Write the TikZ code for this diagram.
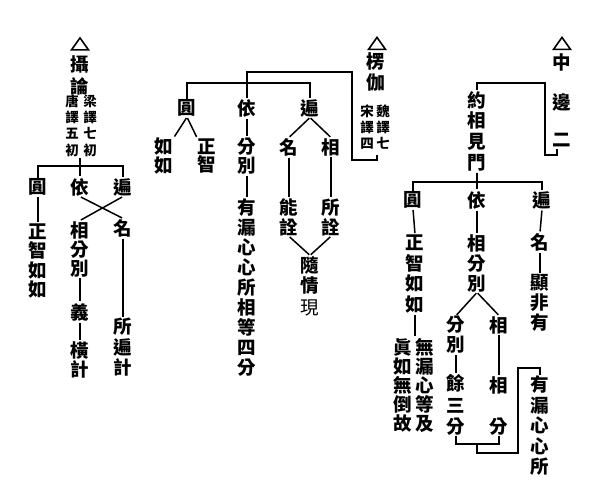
\documentclass[tikz,border=0pt]{standalone}
\usepackage{fontspec}
\usetikzlibrary{shapes.geometric}
\newfontfamily\cjk{Noto Sans CJK TC}
\tikzset{
  ch/.style={font=\cjk\bfseries\fontsize{18.5}{#1}\selectfont, inner sep=0.5pt, align=center},
  ch/.default=20,
  sm/.style={font=\cjk\bfseries\fontsize{13.5}{16.3}\selectfont, inner sep=0.5pt, align=center},
  tri/.style={draw, line width=1.6pt, isosceles triangle, shape border rotate=90,
    isosceles triangle stretches, minimum width=17pt, minimum height=12pt, inner sep=0pt},
  ln/.style={line width=1.5pt, shorten >=1pt, shorten <=1pt},
  br/.style={line width=1.5pt},
}
\begin{document}
\begin{tikzpicture}[x=1pt,y=-1pt]
\useasboundingbox (0,0) rectangle (614,490);
% ---------- panel 1 ----------
\node[tri] (tri1) at (80,45.5) {};
\node[ch=22] (ttl1) at (80,75) {攝\\論};
\node[sm] (n1l) at (72,125.5) {唐\\譯\\五\\初};
\node[sm] (n1r) at (90,125.5) {梁\\譯\\七\\初};
\node[ch] (yuan1) at (38,187) {圓};
\node[ch] (yi1) at (80,187) {依};
\node[ch] (bian1) at (123,187) {遍};
\node[ch=19.3] (zz1) at (38,261) {正\\智\\如\\如};
\node[ch=19] (xfb1) at (80,249) {相\\分\\別};
\node[ch] (yi1b) at (80,312) {義};
\node[ch=17.5] (hj1) at (80,360) {橫\\計};
\node[ch] (ming1) at (123,228) {名};
\node[ch=20.5] (sbj1) at (123,347.5) {所\\遍\\計};
\draw[ln] (yi1.north |- n1l.south) -- (yi1.north);
\draw[br] (yuan1.north) -- (yuan1.north |- 0,166) -- (bian1.north |- 0,166) -- (bian1.north);
\draw[ln] (yi1.south) -- (ming1.north);
\draw[ln] (bian1.south) -- (xfb1.north);
\draw[ln] (yuan1.south) -- (zz1.north);
\draw[ln] (xfb1.south) -- (yi1b.north);
\draw[ln] (yi1b.south) -- (hj1.north);
\draw[ln] (ming1.south) -- (sbj1.north);
% ---------- panel 2 ----------
\node[tri] (tri2) at (377,45) {};
\node[ch=21] (ttl2) at (376,72.5) {楞\\伽};
\node[sm] (n2l) at (367,127) {宋\\譯\\四};
\node[sm] (n2r) at (383,127) {魏\\譯\\七};
\coordinate (b2end) at (377,155);
\node[ch] (yuan2) at (187,108) {圓};
\node[ch] (yi2) at (247,108) {依};
\node[ch] (bian2) at (310,108) {遍};
\node[ch=18.5] (ru2) at (164,156) {如\\如};
\node[ch=18.5] (zz2) at (207,156) {正\\智};
\node[ch=18.5] (fb2) at (247,156) {分\\別};
\node[ch] (ming2) at (289,147) {名};
\node[ch] (xiang2) at (331,147) {相};
\node[ch=20.1] (yl2) at (247,287.5) {有\\漏\\心\\心\\所\\相\\等\\四\\分};
\node[ch=20] (nq2) at (289,217) {能\\詮};
\node[ch=20] (sq2) at (331,217) {所\\詮};
\node[ch=20] (sui2) at (310,275) {隨\\情};
\node[font=\cjk\fontsize{18.5}{20}\selectfont, inner sep=0.5pt] (xian2) at (310,308) {現};
\draw[br] (yi2.north) -- (yi2.north |- 0,72) -- (352,72) -- (352,160) -- (b2end |- 0,160) -- (b2end);
\draw[br] (yuan2.north) -- (yuan2.north |- 0,83) -- (bian2.north |- 0,83) -- (bian2.north);
\draw[ln] (yuan2.south) -- (ru2.north east);
\draw[ln] (yuan2.south) -- (zz2.north west);
\draw[ln] (yi2.south) -- (fb2.north);
\draw[ln] (fb2.south) -- (yl2.north);
\draw[ln] (bian2.south) -- (ming2.north);
\draw[ln] (bian2.south) -- (xiang2.north);
\draw[ln] (ming2.south) -- (nq2.north);
\draw[ln] (xiang2.south) -- (sq2.north);
\draw[ln] (nq2.south) -- (sui2.north);
\draw[ln] (sq2.south) -- (sui2.north);
% ---------- panel 3 ----------
\node[tri] (tri3) at (562,45) {};
\node[ch] (zhong) at (562,62) {中};
\node[ch] (bian3) at (562,102) {邊};
\node[ch] (er3) at (562,140) {二};
\coordinate (b3end) at (557,149);
\node[ch=20.7] (yue) at (477,131) {約\\相\\見\\門};
\node[ch] (yuan3) at (413,200) {圓};
\node[ch] (yi3) at (477,200) {依};
\node[ch] (bianb3) at (542,200) {遍};
\node[ch=20.7] (zz3) at (415,274) {正\\智\\如\\如};
\node[ch=19] (wl3) at (425,385) {無\\漏\\心\\等\\及};
\node[ch=19] (zr3) at (403,385) {眞\\如\\無\\倒\\故};
\node[ch=20] (xfb3) at (477,263) {相\\分\\別};
\node[ch=20] (fb3) at (456,335) {分\\別};
\node[ch] (xiang3) at (499,325) {相};
\node[ch=21.7] (ysf3) at (456,405) {餘\\三\\分};
\node[ch] (xiang3c) at (499,385) {相};
\node[ch] (fen3c) at (499,427) {分};
\node[ch=20.5] (yl3) at (540,426) {有\\漏\\心\\心\\所};
\node[ch] (ming3) at (540,242) {名};
\node[ch=20] (xfy3) at (540,303) {顯\\非\\有};
\draw[br] (yue.north) -- (yue.north |- 0,83) -- (545,83) -- (545,155) -- (b3end |- 0,155) -- (b3end);
\draw[ln] (yue.south) -- (yi3.north);
\draw[br] (yuan3.north) -- (yuan3.north |- 0,182) -- (bianb3.north |- 0,182) -- (bianb3.north);
\draw[ln] (yuan3.south) -- (zz3.north);
\draw[ln] (zz3.south) -- (zz3.south |- wl3.north);
\draw[ln] (yi3.south) -- (xfb3.north);
\draw[ln] (xfb3.south) -- (fb3.north);
\draw[ln] (xfb3.south) -- (xiang3.north);
\draw[ln] (fb3.south) -- (ysf3.north);
\draw[ln] (xiang3.south) -- (xiang3c.north);
\draw[br] (ysf3.south) -- (ysf3.south |- 0,444) -- (fen3c.south |- 0,444) -- (fen3c.south);
\draw[br] (xfb3.south |- 0,444) -- (xfb3.south |- 0,453) -- (518,453) -- (518,368) -- (yl3.north |- 0,368) -- (yl3.north);
\draw[ln] (bianb3.south) -- (ming3.north);
\draw[ln] (ming3.south) -- (xfy3.north);
\end{tikzpicture}
\end{document}
